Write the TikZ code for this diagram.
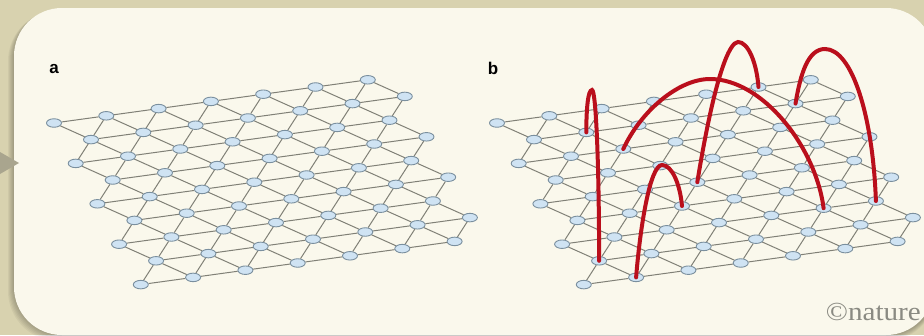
\documentclass[tikz,border=0pt]{standalone}
\usepackage{fontspec}
\setmainfont{Liberation Serif}
\newfontfamily\panelfont{Liberation Sans}
\usetikzlibrary{shapes.geometric}

\definecolor{cardtan}{HTML}{D8D2AF}
\definecolor{cardcream}{HTML}{FAF8EC}
\definecolor{chevgrey}{HTML}{A9A58E}
\definecolor{sitefill}{HTML}{CFE3F3}
\definecolor{siteline}{HTML}{7A8F9E}
\definecolor{bondgrey}{HTML}{808076}
\definecolor{hopred}{HTML}{BA0F1C}
\definecolor{logogrey}{HTML}{8A8A82}

\pgfdeclarelayer{back}
\pgfdeclarelayer{grid}
\pgfsetlayers{back,grid,main}

\begin{document}
\begin{tikzpicture}[x=1pt, y=-1pt,
  site/.style={ellipse, draw=siteline, fill=sitefill, line width=0.9pt,
               minimum width=15pt, minimum height=8.5pt, inner sep=0pt},
  bond/.style={draw=bondgrey, line width=1pt},
  hop/.style={draw=hopred, line width=4pt, line cap=round},
  panel/.style={font=\panelfont\bfseries\fontsize{17}{17}\selectfont, inner sep=0pt}
]
  \useasboundingbox (0,0) rectangle (924,335);

  % card and backdrop
  \begin{pgfonlayer}{back}
    \fill[cardtan] (0,0) rectangle (924,335);
    \foreach \s in {1,...,6}
      \fill[black, opacity=0.045, rounded corners=50pt] ({14-\s},{8+0.5*\s}) rectangle (936,{335+\s});
    \fill[cardcream, rounded corners=48pt] (14,8) rectangle (934,335);
    \fill[chevgrey] (0,152) -- (19,163) -- (0,174) -- cycle;
  \end{pgfonlayer}

  \node[panel] (lbl-a) at (54,69) {a};
  \node[panel] (lbl-b) at (493,68) {b};

  % lattice sites, row j, column k
  \foreach \p/\x in {a/54, b/497}{
    \foreach \j in {0,...,8}{
      \foreach \k in {0,...,6}{
        \pgfmathtruncatemacro{\ii}{\k-floor(\j/2)}
        \node[site] (\p-\k-\j) at ({\x+52.3*\ii+37*\j},{123-7.2*\ii+16.6*\j}) {};
      }
    }
  }

  % bonds
  \begin{pgfonlayer}{grid}
    \foreach \p in {a,b}{
      \foreach \j in {0,...,8}{
        \foreach \k in {0,...,6}{
          \pgfmathtruncatemacro{\kn}{\k+1}
          \pgfmathtruncatemacro{\jn}{\j+1}
          \pgfmathtruncatemacro{\kd}{\k+mod(\j,2)}
          \pgfmathtruncatemacro{\ke}{\kd-1}
          \ifnum\k<6 \draw[bond] (\p-\k-\j) -- (\p-\kn-\j); \fi
          \ifnum\j<8
            \ifnum\kd<7 \draw[bond] (\p-\k-\j) -- (\p-\kd-\jn); \fi
            \ifnum\ke>-1 \draw[bond] (\p-\k-\j) -- (\p-\ke-\jn); \fi
          \fi
        }
      }
    }
  \end{pgfonlayer}

  % long-range hops
  \coordinate (top1) at (592,90);
  \coordinate (top2) at (710,79);
  \coordinate (top3) at (738,42);
  \coordinate (top4) at (825,49);
  \coordinate (top5) at (662,165);
  \draw[hop] (b-1-1.center) .. controls +(0,-24) and +(-4,0) .. (top1)
             .. controls +(4,0) and +(0,-95) .. (b-0-7.center);
  \draw[hop] (b-2-2.center) .. controls +(17,-37) and +(-32,0) .. (top2)
             .. controls +(52,0) and +(-8,-62) .. (b-5-6.center);
  \draw[hop] (b-3-4.center) .. controls +(18,-110) and +(-8,0) .. (top3)
             .. controls +(10,0) and +(-2,-25) .. (b-5-0.center);
  \draw[hop] (b-5-1.center) .. controls +(5,-30) and +(-17,0) .. (top4)
             .. controls +(27,0) and +(-3,-85) .. (b-6-6.center);
  \draw[hop] (b-1-8.center) .. controls +(4,-50) and +(-12,0) .. (top5)
             .. controls +(10,0) and +(-2,-22) .. (b-2-5.center);

  \node[font=\fontsize{26}{26}\selectfont, text=logogrey, anchor=east, inner sep=0pt]
    (logo) at (921,312) {\scalebox{1.12}[1]{©nature}};
\end{tikzpicture}
\end{document}
